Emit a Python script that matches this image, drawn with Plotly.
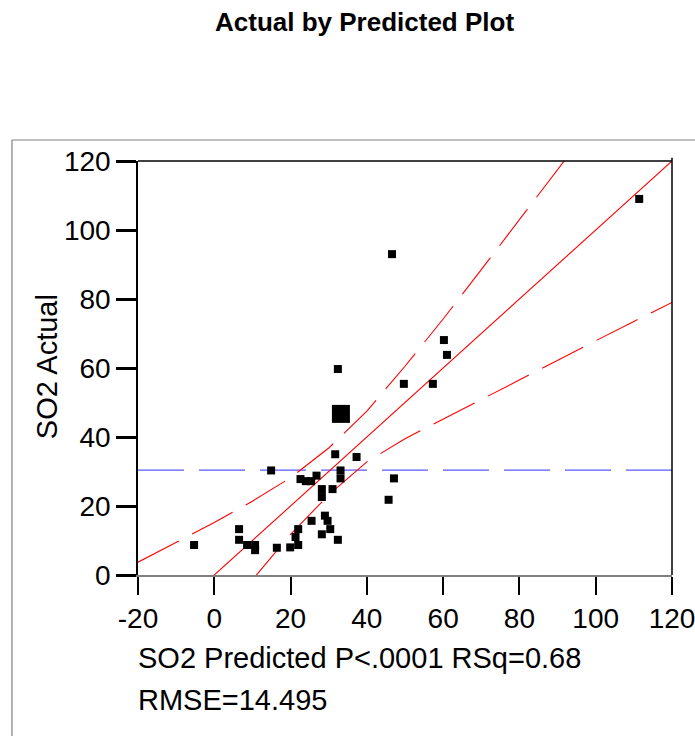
import plotly.graph_objects as go

# ---- data ----
pred = [111.4, 46.6, 60.2, 61.0, 49.7, 57.3, 32.4, 37.3, 31.7, 33.1, 33.1, 14.9,
        22.6, 24.0, 25.4, 26.8, 28.2, 28.2, 31.0, 47.1, 45.7, 25.5, 29.0, 29.7,
        30.4, 28.2, 32.4, 22.0, 21.3, 22.0, 19.9, 16.4, 10.7, 10.7, 8.6, 6.5, 6.5, -5.3]
actual = [109.0, 93.0, 68.1, 63.8, 55.4, 55.4, 59.7, 34.2, 35.0, 30.3, 28.0, 30.3,
          27.8, 27.2, 27.2, 28.8, 24.9, 22.6, 24.9, 28.0, 21.8, 15.7, 17.2, 15.7,
          13.3, 11.8, 10.2, 13.3, 11.0, 8.7, 8.0, 7.9, 8.7, 7.2, 8.7, 13.3, 10.2, 8.7]
big_pred = [33.2]
big_actual = [46.7]

fit_x = [-20, 120]
fit_y = [-20, 120]

curve_x = [-20, -10, 0, 10, 20, 30, 40, 50, 60, 70, 80, 90, 100, 110, 120]
upper = [3.7, 9.4, 15.2, 21.4, 28.2, 36.8, 47.5, 60.5, 74.2, 88.5, 103.0, 117.5, 132.1, 146.5, 161.0]
lower = [-43.7, -29.4, -15.2, -1.4, 11.8, 23.2, 32.8, 39.5, 45.2, 51.0, 56.6, 62.3, 67.9, 73.5, 79.0]

mean_x = [-20, 120]
mean_y = [30.4, 30.4]

x_ticks = [-20, 0, 20, 40, 60, 80, 100, 120]
y_ticks = [0, 20, 40, 60, 80, 100, 120]

FONT = "Arial, Liberation Sans, sans-serif"

fig = go.Figure()
fig.add_trace(go.Scatter(x=mean_x, y=mean_y, mode="lines",
                         line=dict(color="#5a5aff", width=1.2, dash="46px,15px"),
                         hoverinfo="skip"))
fig.add_trace(go.Scatter(x=curve_x, y=upper, mode="lines",
                         line=dict(color="#ff0000", width=1.1, dash="46px,15px"),
                         hoverinfo="skip"))
fig.add_trace(go.Scatter(x=curve_x, y=lower, mode="lines",
                         line=dict(color="#ff0000", width=1.1, dash="46px,15px"),
                         hoverinfo="skip"))
fig.add_trace(go.Scatter(x=fit_x, y=fit_y, mode="lines",
                         line=dict(color="#ff0000", width=1.1),
                         hoverinfo="skip"))
fig.add_trace(go.Scatter(x=pred, y=actual, mode="markers",
                         marker=dict(symbol="square", size=8, color="black")))
fig.add_trace(go.Scatter(x=big_pred, y=big_actual, mode="markers",
                         marker=dict(symbol="square", size=18, color="black")))

fig.update_layout(
    width=695, height=736,
    margin=dict(l=138, r=23, t=161, b=161, autoexpand=False),
    paper_bgcolor="white", plot_bgcolor="white",
    showlegend=False,
    font=dict(family=FONT, color="black"),
    xaxis=dict(range=[-20, 120], tickvals=x_ticks, ticktext=[str(v) for v in x_ticks],
               showgrid=False, zeroline=False, showline=True, linecolor="#808080",
               linewidth=1.5, ticks="outside", ticklen=18, tickwidth=1.5,
               tickcolor="black", ticklabeloverflow="allow", automargin=False,
               tickfont=dict(size=28, family=FONT, color="black")),
    yaxis=dict(range=[0, 120], tickvals=y_ticks, ticktext=[str(v) for v in y_ticks],
               showgrid=False, zeroline=False, showline=True, linecolor="black",
               linewidth=1.5, ticks="outside", ticklen=20, tickwidth=2.5,
               tickcolor="black", ticklabeloverflow="allow", automargin=False,
               tickfont=dict(size=28, family=FONT, color="black")),
    shapes=[
        # top and right frame lines of the plot
        dict(type="line", xref="paper", yref="paper", x0=0, x1=1, y0=1, y1=1,
             line=dict(color="black", width=1.5)),
        dict(type="line", xref="paper", yref="paper", x0=1, x1=1, y0=0, y1=1.008,
             line=dict(color="black", width=1.5)),
        # outer report box (top and left edges)
        dict(type="line", xref="paper", yref="paper", x0=-0.236, x1=1.05,
             y0=1.0507, y1=1.0507, line=dict(color="#808080", width=1.2)),
        dict(type="line", xref="paper", yref="paper", x0=-0.236, x1=-0.236,
             y0=1.0507, y1=-0.40, line=dict(color="#808080", width=1.2)),
    ],
    annotations=[
        dict(text="<b>Actual by Predicted Plot</b>", xref="paper", yref="paper",
             x=0.425, y=1.3357, xanchor="center", yanchor="middle", showarrow=False,
             font=dict(size=26, family=FONT, color="black")),
        dict(text="SO2 Actual", xref="paper", yref="paper", x=-0.1704, y=0.502,
             xanchor="center", yanchor="middle", textangle=-90, showarrow=False,
             font=dict(size=29, family=FONT, color="black")),
        dict(text="SO2 Predicted P<.0001 RSq=0.68", xref="paper", yref="paper",
             x=-0.004, y=-0.2005, xanchor="left", yanchor="middle", showarrow=False,
             font=dict(size=29, family=FONT, color="black")),
        dict(text="RMSE=14.495", xref="paper", yref="paper",
             x=-0.004, y=-0.3019, xanchor="left", yanchor="middle", showarrow=False,
             font=dict(size=29, family=FONT, color="black")),
    ],
)

fig.write_html("out.html")
